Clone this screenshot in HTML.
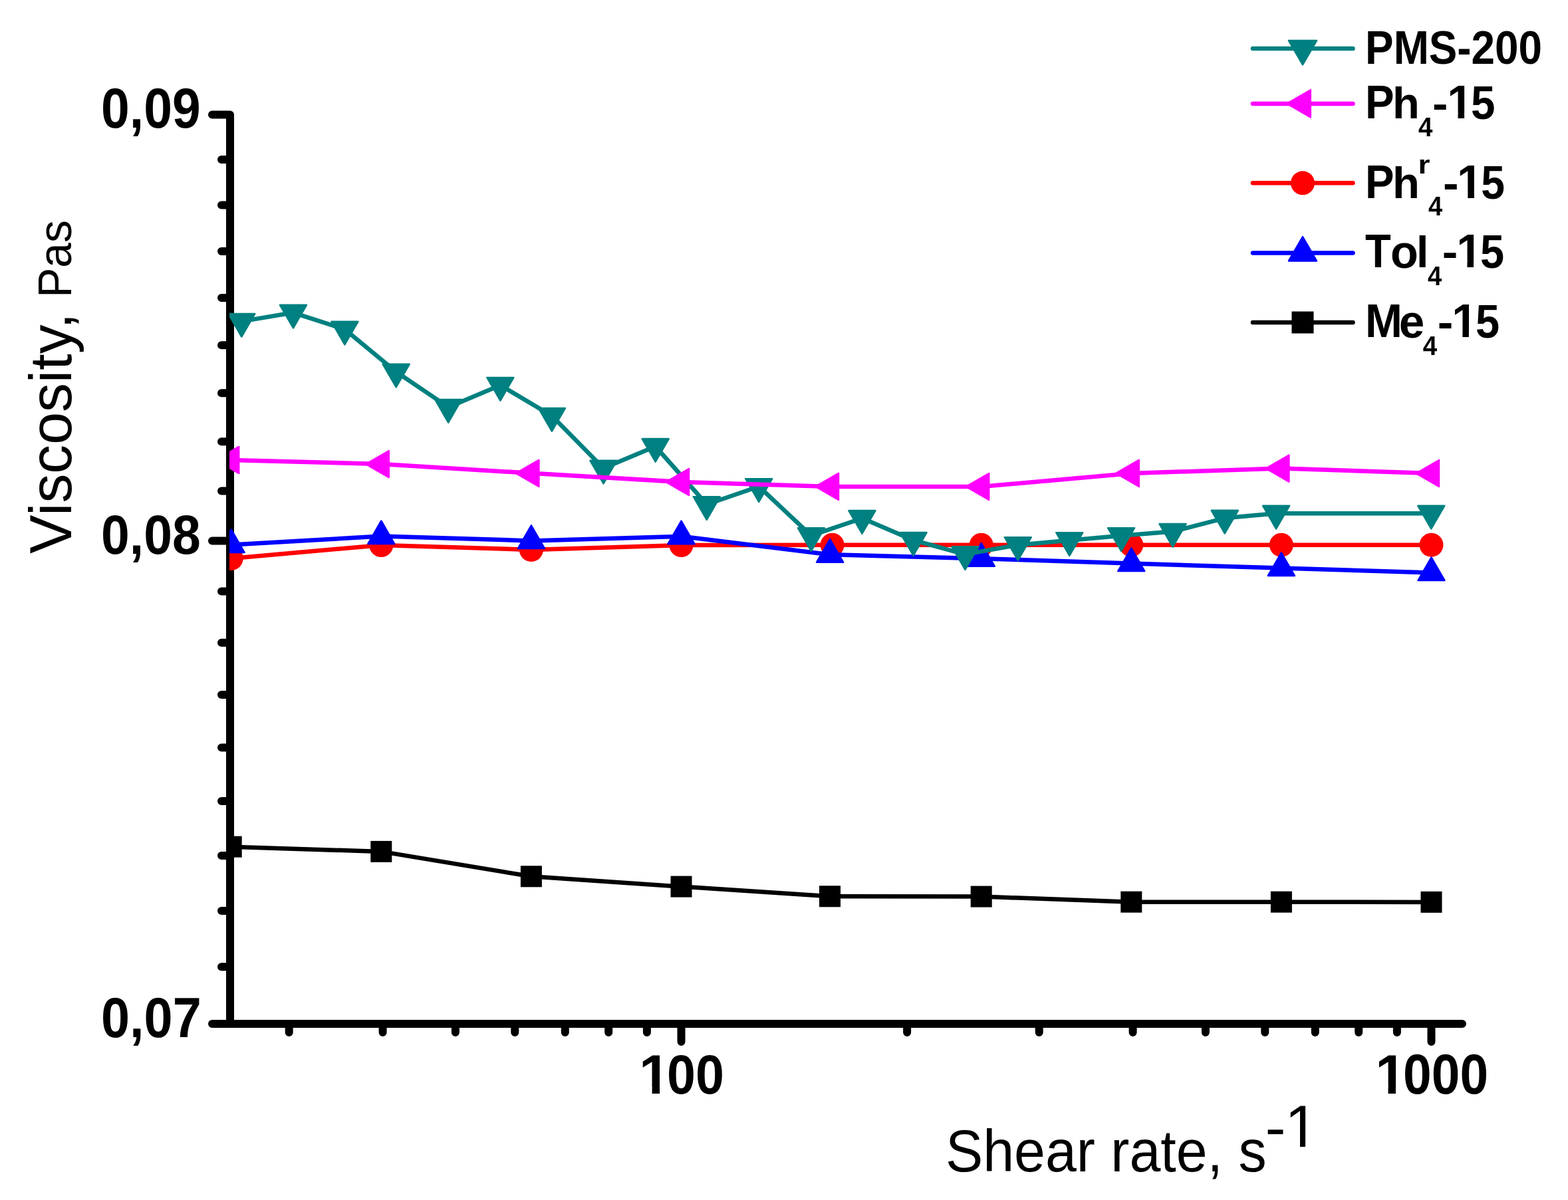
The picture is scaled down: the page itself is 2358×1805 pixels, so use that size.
<!DOCTYPE html><html><head><meta charset="utf-8"><style>html,body{margin:0;padding:0;background:#fff;overflow:hidden}svg{display:block}.tb{font-family:"Liberation Sans",Arial,sans-serif;font-weight:bold}.tr{font-family:"Liberation Sans",Arial,sans-serif}</style></head><body>
<svg width="2358" height="1805" viewBox="0 0 2358 1805">
<rect width="2358" height="1805" fill="#fff"/>
<path d="M319,172.5 H346 V1540 M319,1540 H2199 M333,1454.3 H346 M333,1369.9 H346 M333,1286.9 H346 M333,1205.0 H346 M333,1124.4 H346 M333,1045.0 H346 M333,966.7 H346 M333,889.5 H346 M333,738.4 H346 M333,664.3 H346 M333,591.3 H346 M333,519.2 H346 M333,448.1 H346 M333,377.9 H346 M333,308.6 H346 M333,240.1 H346 M319,813.4 H346 M434.7,1540 V1553 M575.6,1540 V1553 M684.9,1540 V1553 M774.3,1540 V1553 M849.8,1540 V1553 M915.2,1540 V1553 M972.9,1540 V1553 M1024.5,1540 V1567 M1364.1,1540 V1553 M1562.7,1540 V1553 M1703.6,1540 V1553 M1812.9,1540 V1553 M1902.3,1540 V1553 M1977.8,1540 V1553 M2043.2,1540 V1553 M2100.9,1540 V1553 M2152.5,1540 V1567" fill="none" stroke="#000" stroke-width="12" stroke-linecap="round" stroke-linejoin="round"/>
<defs><clipPath id="pc"><rect x="345" y="0" width="2013" height="1805"/></clipPath></defs>
<g clip-path="url(#pc)">
<path d="M347.7,1273.7 L573.3,1280.9 L798.9,1318.3 L1024.5,1333.6 L1248.0,1348.3 L1475.7,1348.6 L1701.3,1356.7 L1926.9,1356.7 L2152.5,1356.9" fill="none" stroke="#000000" stroke-width="6.5" stroke-linejoin="round"/><rect x="331.7" y="1257.7" width="32" height="32" fill="#000000"/><rect x="557.3" y="1264.9" width="32" height="32" fill="#000000"/><rect x="782.9" y="1302.3" width="32" height="32" fill="#000000"/><rect x="1008.5" y="1317.6" width="32" height="32" fill="#000000"/><rect x="1232.0" y="1332.3" width="32" height="32" fill="#000000"/><rect x="1459.7" y="1332.6" width="32" height="32" fill="#000000"/><rect x="1685.3" y="1340.7" width="32" height="32" fill="#000000"/><rect x="1910.9" y="1340.7" width="32" height="32" fill="#000000"/><rect x="2136.5" y="1340.9" width="32" height="32" fill="#000000"/>
<path d="M347.7,839.9 L573.3,820.0 L798.9,826.9 L1024.5,820.0 L1251.6,819.7 L1475.7,819.7 L1701.3,819.7 L1926.9,819.7 L2152.5,819.7" fill="none" stroke="#FF0000" stroke-width="6.5" stroke-linejoin="round"/><circle cx="347.7" cy="839.9" r="18" fill="#FF0000"/><circle cx="573.3" cy="820.0" r="18" fill="#FF0000"/><circle cx="798.9" cy="826.9" r="18" fill="#FF0000"/><circle cx="1024.5" cy="820.0" r="18" fill="#FF0000"/><circle cx="1251.6" cy="819.7" r="18" fill="#FF0000"/><circle cx="1475.7" cy="819.7" r="18" fill="#FF0000"/><circle cx="1701.3" cy="819.7" r="18" fill="#FF0000"/><circle cx="1926.9" cy="819.7" r="18" fill="#FF0000"/><circle cx="2152.5" cy="819.7" r="18" fill="#FF0000"/>
<path d="M347.7,819.6 L573.3,806.6 L798.9,813.4 L1024.5,806.7 L1248.1,834.2 L1475.7,840.2 L1701.3,847.6 L1926.9,854.4 L2152.5,861.6" fill="none" stroke="#0000FF" stroke-width="6.5" stroke-linejoin="round"/><path d="M327.7,831.1 L367.7,831.1 L347.7,796.5 Z" fill="#0000FF" stroke="#0000FF" stroke-width="2.5" stroke-linejoin="round"/><path d="M553.3,818.1 L593.3,818.1 L573.3,783.5 Z" fill="#0000FF" stroke="#0000FF" stroke-width="2.5" stroke-linejoin="round"/><path d="M778.9,824.9 L818.9,824.9 L798.9,790.3 Z" fill="#0000FF" stroke="#0000FF" stroke-width="2.5" stroke-linejoin="round"/><path d="M1004.5,818.2 L1044.5,818.2 L1024.5,783.6 Z" fill="#0000FF" stroke="#0000FF" stroke-width="2.5" stroke-linejoin="round"/><path d="M1228.1,845.7 L1268.1,845.7 L1248.1,811.1 Z" fill="#0000FF" stroke="#0000FF" stroke-width="2.5" stroke-linejoin="round"/><path d="M1455.7,851.7 L1495.7,851.7 L1475.7,817.1 Z" fill="#0000FF" stroke="#0000FF" stroke-width="2.5" stroke-linejoin="round"/><path d="M1681.3,859.1 L1721.3,859.1 L1701.3,824.5 Z" fill="#0000FF" stroke="#0000FF" stroke-width="2.5" stroke-linejoin="round"/><path d="M1906.9,865.9 L1946.9,865.9 L1926.9,831.3 Z" fill="#0000FF" stroke="#0000FF" stroke-width="2.5" stroke-linejoin="round"/><path d="M2132.5,873.1 L2172.5,873.1 L2152.5,838.5 Z" fill="#0000FF" stroke="#0000FF" stroke-width="2.5" stroke-linejoin="round"/>
<path d="M363.3,483.4 L441.0,470.3 L518.4,495.3 L595.7,559.3 L674.2,612.4 L752.4,579.4 L829.9,625.5 L907.5,704.3 L985.7,671.5 L1062.8,758.7 L1141.2,731.7 L1219.9,805.7 L1296.4,779.6 L1373.5,812.5 L1451.4,833.8 L1530.8,819.7 L1608.3,812.7 L1686.1,805.7 L1763.6,799.6 L1841.8,779.3 L1919.1,772.3 L2152.3,772.3" fill="none" stroke="#008080" stroke-width="6.5" stroke-linejoin="round"/><path d="M343.3,471.9 L383.3,471.9 L363.3,506.5 Z" fill="#008080" stroke="#008080" stroke-width="2.5" stroke-linejoin="round"/><path d="M421.0,458.8 L461.0,458.8 L441.0,493.4 Z" fill="#008080" stroke="#008080" stroke-width="2.5" stroke-linejoin="round"/><path d="M498.4,483.8 L538.4,483.8 L518.4,518.4 Z" fill="#008080" stroke="#008080" stroke-width="2.5" stroke-linejoin="round"/><path d="M575.7,547.8 L615.7,547.8 L595.7,582.4 Z" fill="#008080" stroke="#008080" stroke-width="2.5" stroke-linejoin="round"/><path d="M654.2,600.9 L694.2,600.9 L674.2,635.5 Z" fill="#008080" stroke="#008080" stroke-width="2.5" stroke-linejoin="round"/><path d="M732.4,567.9 L772.4,567.9 L752.4,602.5 Z" fill="#008080" stroke="#008080" stroke-width="2.5" stroke-linejoin="round"/><path d="M809.9,614.0 L849.9,614.0 L829.9,648.6 Z" fill="#008080" stroke="#008080" stroke-width="2.5" stroke-linejoin="round"/><path d="M887.5,692.8 L927.5,692.8 L907.5,727.4 Z" fill="#008080" stroke="#008080" stroke-width="2.5" stroke-linejoin="round"/><path d="M965.7,660.0 L1005.7,660.0 L985.7,694.6 Z" fill="#008080" stroke="#008080" stroke-width="2.5" stroke-linejoin="round"/><path d="M1042.8,747.2 L1082.8,747.2 L1062.8,781.8 Z" fill="#008080" stroke="#008080" stroke-width="2.5" stroke-linejoin="round"/><path d="M1121.2,720.2 L1161.2,720.2 L1141.2,754.8 Z" fill="#008080" stroke="#008080" stroke-width="2.5" stroke-linejoin="round"/><path d="M1199.9,794.2 L1239.9,794.2 L1219.9,828.8 Z" fill="#008080" stroke="#008080" stroke-width="2.5" stroke-linejoin="round"/><path d="M1276.4,768.1 L1316.4,768.1 L1296.4,802.7 Z" fill="#008080" stroke="#008080" stroke-width="2.5" stroke-linejoin="round"/><path d="M1353.5,801.0 L1393.5,801.0 L1373.5,835.6 Z" fill="#008080" stroke="#008080" stroke-width="2.5" stroke-linejoin="round"/><path d="M1431.4,822.3 L1471.4,822.3 L1451.4,856.9 Z" fill="#008080" stroke="#008080" stroke-width="2.5" stroke-linejoin="round"/><path d="M1510.8,808.2 L1550.8,808.2 L1530.8,842.8 Z" fill="#008080" stroke="#008080" stroke-width="2.5" stroke-linejoin="round"/><path d="M1588.3,801.2 L1628.3,801.2 L1608.3,835.8 Z" fill="#008080" stroke="#008080" stroke-width="2.5" stroke-linejoin="round"/><path d="M1666.1,794.2 L1706.1,794.2 L1686.1,828.8 Z" fill="#008080" stroke="#008080" stroke-width="2.5" stroke-linejoin="round"/><path d="M1743.6,788.1 L1783.6,788.1 L1763.6,822.7 Z" fill="#008080" stroke="#008080" stroke-width="2.5" stroke-linejoin="round"/><path d="M1821.8,767.8 L1861.8,767.8 L1841.8,802.4 Z" fill="#008080" stroke="#008080" stroke-width="2.5" stroke-linejoin="round"/><path d="M1899.1,760.8 L1939.1,760.8 L1919.1,795.4 Z" fill="#008080" stroke="#008080" stroke-width="2.5" stroke-linejoin="round"/><path d="M2132.3,760.8 L2172.3,760.8 L2152.3,795.4 Z" fill="#008080" stroke="#008080" stroke-width="2.5" stroke-linejoin="round"/>
<path d="M347.7,691.9 L573.3,698.1 L798.9,711.8 L1024.5,725.0 L1249.5,731.9 L1475.7,732.0 L1701.3,711.9 L1926.9,704.6 L2152.5,712.0" fill="none" stroke="#FF00FF" stroke-width="6.5" stroke-linejoin="round"/><path d="M359.2,671.9 L359.2,711.9 L324.6,691.9 Z" fill="#FF00FF" stroke="#FF00FF" stroke-width="2.5" stroke-linejoin="round"/><path d="M584.8,678.1 L584.8,718.1 L550.2,698.1 Z" fill="#FF00FF" stroke="#FF00FF" stroke-width="2.5" stroke-linejoin="round"/><path d="M810.4,691.8 L810.4,731.8 L775.8,711.8 Z" fill="#FF00FF" stroke="#FF00FF" stroke-width="2.5" stroke-linejoin="round"/><path d="M1036.0,705.0 L1036.0,745.0 L1001.4,725.0 Z" fill="#FF00FF" stroke="#FF00FF" stroke-width="2.5" stroke-linejoin="round"/><path d="M1261.0,711.9 L1261.0,751.9 L1226.4,731.9 Z" fill="#FF00FF" stroke="#FF00FF" stroke-width="2.5" stroke-linejoin="round"/><path d="M1487.2,712.0 L1487.2,752.0 L1452.6,732.0 Z" fill="#FF00FF" stroke="#FF00FF" stroke-width="2.5" stroke-linejoin="round"/><path d="M1712.8,691.9 L1712.8,731.9 L1678.2,711.9 Z" fill="#FF00FF" stroke="#FF00FF" stroke-width="2.5" stroke-linejoin="round"/><path d="M1938.4,684.6 L1938.4,724.6 L1903.8,704.6 Z" fill="#FF00FF" stroke="#FF00FF" stroke-width="2.5" stroke-linejoin="round"/><path d="M2164.0,692.0 L2164.0,732.0 L2129.4,712.0 Z" fill="#FF00FF" stroke="#FF00FF" stroke-width="2.5" stroke-linejoin="round"/>
</g>
<path d="M1884,73.1 H2034.5" stroke="#008080" stroke-width="6.5" stroke-linecap="round"/>
<path d="M1938.0,61.0 L1980.0,61.0 L1959.0,97.3 Z" fill="#008080" stroke="#008080" stroke-width="2.5" stroke-linejoin="round"/>
<path d="M1884,155.9 H2034.5" stroke="#FF00FF" stroke-width="6.5" stroke-linecap="round"/>
<path d="M1970.8,135.4 L1970.8,176.4 L1935.3,155.9 Z" fill="#FF00FF" stroke="#FF00FF" stroke-width="2.5" stroke-linejoin="round"/>
<path d="M1884,275.3 H2034.5" stroke="#FF0000" stroke-width="6.5" stroke-linecap="round"/>
<circle cx="1959" cy="275.3" r="18" fill="#FF0000"/>
<path d="M1884,380.4 H2034.5" stroke="#0000FF" stroke-width="6.5" stroke-linecap="round"/>
<path d="M1938.0,392.5 L1980.0,392.5 L1959.0,356.2 Z" fill="#0000FF" stroke="#0000FF" stroke-width="2.5" stroke-linejoin="round"/>
<path d="M1884,485.0 H2034.5" stroke="#000000" stroke-width="6.5" stroke-linecap="round"/>
<rect x="1942.5" y="468.5" width="33" height="33" fill="#000000"/>
<defs><clipPath id="c_x100"><path clip-rule="evenodd" d="M-100,-100 H2500 V1900 H-100 Z M964.85,1635.17 H980.61 V1646.25 H964.85 Z M992.1,1635.17 H1006.5 V1646.25 H992.1 Z"/></clipPath><clipPath id="c_x1000"><path clip-rule="evenodd" d="M-100,-100 H2500 V1900 H-100 Z M2071.9,1635.3 H2087.56 V1646.4 H2071.9 Z M2098.95,1635.3 H2113.25 V1646.4 H2098.95 Z"/></clipPath><clipPath id="c_xt"><path clip-rule="evenodd" d="M-100,-100 H2500 V1900 H-100 Z M1937.47,1717.19 H1955.01 V1726.3 H1937.47 Z M1963.1,1717.19 H1979.63 V1726.3 H1963.1 Z"/></clipPath><clipPath id="c_L2"><path clip-rule="evenodd" d="M-100,-100 H2500 V1900 H-100 Z M2179.13,169.79 H2192.52 V179.4 H2179.13 Z M2202.1,169.79 H2214.31 V179.4 H2202.1 Z"/></clipPath><clipPath id="c_L3"><path clip-rule="evenodd" d="M-100,-100 H2500 V1900 H-100 Z M2193.93,289.88 H2207.32 V299.5 H2193.93 Z M2216.9,289.88 H2229.11 V299.5 H2216.9 Z"/></clipPath><clipPath id="c_L4"><path clip-rule="evenodd" d="M-100,-100 H2500 V1900 H-100 Z M2193.03,393.79 H2206.42 V403.4 H2193.03 Z M2216,393.79 H2228.21 V403.4 H2216 Z"/></clipPath><clipPath id="c_L5"><path clip-rule="evenodd" d="M-100,-100 H2500 V1900 H-100 Z M2186.03,498.88 H2199.37 V508.5 H2186.03 Z M2208.9,498.88 H2221.06 V508.5 H2208.9 Z"/></clipPath></defs>
<text><tspan class="tb" x="152.02" y="192.1" font-size="84.66" textLength="149.68" lengthAdjust="spacingAndGlyphs">0,09</tspan></text>
<text><tspan class="tb" x="152.02" y="833.22" font-size="83.18" textLength="149.68" lengthAdjust="spacingAndGlyphs">0,08</tspan></text>
<text><tspan class="tb" x="152" y="1560.1" font-size="84.66" textLength="150.69" lengthAdjust="spacingAndGlyphs">0,07</tspan></text>
<text clip-path="url(#c_x100)"><tspan class="tb" x="961.08" y="1644.75" font-size="84.09" textLength="46.55" lengthAdjust="spacingAndGlyphs">1</tspan><tspan class="tb" x="1002.9" y="1644.75" font-size="84.14" textLength="85.98" lengthAdjust="spacingAndGlyphs">00</tspan></text>
<text clip-path="url(#c_x1000)"><tspan class="tb" x="2068.17" y="1644.9" font-size="84.3" textLength="46.19" lengthAdjust="spacingAndGlyphs">1</tspan><tspan class="tb" x="2110.12" y="1644.94" font-size="84.43" textLength="128.02" lengthAdjust="spacingAndGlyphs">000</tspan></text>
<text clip-path="url(#c_xt)"><tspan class="tr" x="1421.93" y="1761.8" font-size="88.66" textLength="482.69" lengthAdjust="spacingAndGlyphs">Shear rate, s</tspan><tspan class="tr" x="1902.5" y="1726.17" font-size="86.21" textLength="31.14" lengthAdjust="spacingAndGlyphs">-</tspan><tspan class="tr" x="1932" y="1724.8" font-size="88.52" textLength="50.9" lengthAdjust="spacingAndGlyphs">1</tspan></text>
<text transform="rotate(-90)"><tspan class="tr" x="-833.03" y="106.9" font-size="88.66" textLength="362.52" lengthAdjust="spacingAndGlyphs">Viscosity,</tspan> <tspan class="tr" x="-447.86" y="107.1" font-size="69.91" textLength="116.59" lengthAdjust="spacingAndGlyphs">Pas</tspan></text>
<text><tspan class="tb" x="2053.09" y="96" font-size="69.91" textLength="265.95" lengthAdjust="spacingAndGlyphs">PMS-200</tspan></text>
<text clip-path="url(#c_L2)"><tspan class="tb" x="2053.09" y="177.9" font-size="69.77" textLength="43.64" lengthAdjust="spacingAndGlyphs">P</tspan><tspan class="tb" x="2094.12" y="177.9" font-size="66.86" textLength="40.81" lengthAdjust="spacingAndGlyphs">h</tspan><tspan class="tb" x="2132.94" y="205" font-size="41.57" textLength="21.4" lengthAdjust="spacingAndGlyphs">4</tspan><tspan class="tb" x="2153.94" y="177.58" font-size="65.33" textLength="23.49" lengthAdjust="spacingAndGlyphs">-</tspan><tspan class="tb" x="2176.23" y="177.9" font-size="69.62" textLength="38.83" lengthAdjust="spacingAndGlyphs">1</tspan><tspan class="tb" x="2211.94" y="179.1" font-size="70.06" textLength="36.48" lengthAdjust="spacingAndGlyphs">5</tspan></text>
<text clip-path="url(#c_L3)"><tspan class="tb" x="2053.01" y="298" font-size="69.91" textLength="43.53" lengthAdjust="spacingAndGlyphs">P</tspan><tspan class="tb" x="2094" y="298" font-size="67" textLength="40.94" lengthAdjust="spacingAndGlyphs">h</tspan><tspan class="tb" x="2132.53" y="260.9" font-size="38.36" textLength="18.04" lengthAdjust="spacingAndGlyphs">r</tspan><tspan class="tb" x="2148.05" y="323.8" font-size="41" textLength="21.19" lengthAdjust="spacingAndGlyphs">4</tspan><tspan class="tb" x="2169.92" y="297.74" font-size="66.16" textLength="23.62" lengthAdjust="spacingAndGlyphs">-</tspan><tspan class="tb" x="2191.03" y="298" font-size="69.77" textLength="38.83" lengthAdjust="spacingAndGlyphs">1</tspan><tspan class="tb" x="2227.28" y="299.1" font-size="70.06" textLength="35.8" lengthAdjust="spacingAndGlyphs">5</tspan></text>
<text clip-path="url(#c_L4)"><tspan class="tb" x="2053.05" y="401.9" font-size="69.77" textLength="38.73" lengthAdjust="spacingAndGlyphs">T</tspan><tspan class="tb" x="2091.03" y="402.9" font-size="70.45" textLength="41.87" lengthAdjust="spacingAndGlyphs">o</tspan><tspan class="tb" x="2130.06" y="401.9" font-size="66.86" textLength="18.42" lengthAdjust="spacingAndGlyphs">l</tspan><tspan class="tb" x="2147.05" y="428.9" font-size="41.29" textLength="21.19" lengthAdjust="spacingAndGlyphs">4</tspan><tspan class="tb" x="2168.82" y="401.48" font-size="65.33" textLength="23.62" lengthAdjust="spacingAndGlyphs">-</tspan><tspan class="tb" x="2190.13" y="401.9" font-size="69.62" textLength="38.83" lengthAdjust="spacingAndGlyphs">1</tspan><tspan class="tb" x="2226.06" y="402.8" font-size="69.62" textLength="36.14" lengthAdjust="spacingAndGlyphs">5</tspan></text>
<text clip-path="url(#c_L5)"><tspan class="tb" x="2052.89" y="507" font-size="69.91" textLength="55.93" lengthAdjust="spacingAndGlyphs">M</tspan><tspan class="tb" x="2103.8" y="508.1" font-size="70.64" textLength="38.55" lengthAdjust="spacingAndGlyphs">e</tspan><tspan class="tb" x="2139.84" y="533.9" font-size="41.43" textLength="21.4" lengthAdjust="spacingAndGlyphs">4</tspan><tspan class="tb" x="2161.82" y="507" font-size="67" textLength="23.62" lengthAdjust="spacingAndGlyphs">-</tspan><tspan class="tb" x="2183.15" y="507" font-size="69.77" textLength="38.64" lengthAdjust="spacingAndGlyphs">1</tspan><tspan class="tb" x="2219.06" y="508.1" font-size="70.06" textLength="36.14" lengthAdjust="spacingAndGlyphs">5</tspan></text>
</svg></body></html>
